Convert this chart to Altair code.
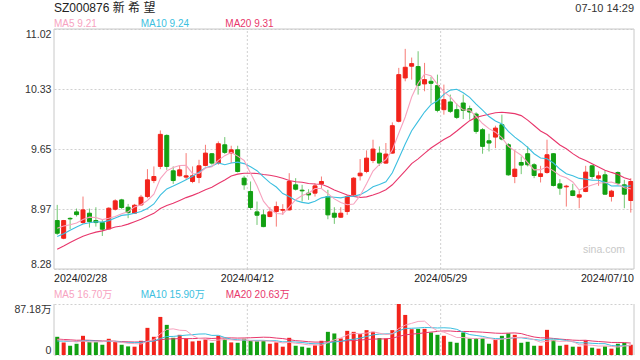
import altair as alt
import pandas as pd

# ---------------- data ----------------
tick_dates = ["2024/02/28", "2024/04/12", "2024/05/29", "2024/07/10"]
tick_pos = [0, 30, 60, 90]

open_p = [8.833, 8.631, 8.858, 8.932, 8.810, 8.917, 8.833, 8.810, 8.737, 8.962,
          9.069, 8.985, 8.917, 9.012, 9.107, 9.290, 9.451, 9.805, 9.401, 9.344,
          9.329, 9.279, 9.325, 9.462, 9.596, 9.489, 9.698, 9.603, 9.641, 9.317,
          9.165, 8.932, 8.898, 8.879, 8.936, 8.951, 8.955, 9.241, 9.180, 9.146,
          9.146, 9.252, 9.107, 8.917, 8.871, 8.936, 9.126, 9.344, 9.393, 9.519,
          9.603, 9.489, 9.603, 9.966, 10.461, 10.595, 10.591, 10.393, 10.423, 10.374,
          10.099, 10.187, 10.099, 10.175, 10.110, 10.049, 9.870, 9.744, 9.786, 9.927,
          9.699, 9.336, 9.496, 9.596, 9.470, 9.336, 9.382, 9.596, 9.252, 9.218,
          9.172, 9.100, 9.165, 9.458, 9.317, 9.355, 9.108, 9.382, 9.241, 9.062]
high_p = [9.012, 8.840, 8.871, 8.970, 9.107, 8.970, 8.985, 8.841, 8.985, 9.077,
          9.081, 9.023, 9.023, 9.126, 9.420, 9.451, 9.862, 9.817, 9.451, 9.466,
          9.603, 9.451, 9.527, 9.698, 9.603, 9.737, 9.786, 9.687, 9.687, 9.344,
          9.279, 9.050, 8.955, 8.985, 9.050, 9.020, 9.374, 9.317, 9.241, 9.191,
          9.260, 9.336, 9.184, 8.985, 8.985, 9.126, 9.329, 9.535, 9.634, 9.756,
          9.679, 9.718, 9.954, 10.576, 10.793, 10.694, 10.766, 10.633, 10.473, 10.499,
          10.385, 10.271, 10.168, 10.271, 10.145, 10.069, 9.889, 9.824, 9.916, 10.042,
          9.718, 9.641, 9.565, 9.680, 9.489, 9.458, 9.756, 9.603, 9.306, 9.241,
          9.252, 9.176, 9.458, 9.470, 9.394, 9.405, 9.184, 9.394, 9.298, 9.317]
low_p = [8.669, 8.620, 8.734, 8.879, 8.795, 8.753, 8.764, 8.657, 8.734, 8.947,
         8.962, 8.860, 8.909, 9.001, 9.088, 9.260, 9.420, 9.412, 9.252, 9.336,
         9.298, 9.260, 9.260, 9.451, 9.470, 9.470, 9.592, 9.489, 9.382, 9.184,
         8.955, 8.783, 8.757, 8.871, 8.764, 8.898, 8.947, 9.176, 9.050, 9.069,
         9.107, 9.203, 8.848, 8.795, 8.863, 8.898, 9.107, 9.290, 9.374, 9.489,
         9.458, 9.481, 9.596, 9.954, 10.423, 10.442, 10.271, 10.309, 10.168, 10.069,
         10.042, 10.061, 9.992, 9.992, 9.985, 9.824, 9.596, 9.622, 9.660, 9.748,
         9.344, 9.260, 9.363, 9.451, 9.317, 9.268, 9.367, 9.222, 9.127, 8.993,
         9.111, 8.974, 9.157, 9.306, 9.230, 9.127, 9.050, 9.241, 8.974, 8.924]
close_p = [8.688, 8.833, 8.852, 8.901, 8.955, 8.821, 8.810, 8.734, 8.974, 9.058,
           8.982, 8.924, 9.008, 9.100, 9.298, 9.336, 9.817, 9.451, 9.290, 9.412,
           9.344, 9.344, 9.458, 9.603, 9.489, 9.710, 9.611, 9.641, 9.393, 9.241,
           8.982, 8.894, 8.764, 8.932, 8.993, 8.959, 9.279, 9.191, 9.172, 9.126,
           9.229, 9.279, 8.898, 8.871, 8.917, 9.107, 9.317, 9.374, 9.546, 9.649,
           9.489, 9.592, 9.916, 10.499, 10.583, 10.625, 10.377, 10.442, 10.400, 10.091,
           10.213, 10.080, 10.011, 10.091, 10.072, 9.851, 9.680, 9.718, 9.889, 9.763,
           9.355, 9.420, 9.466, 9.470, 9.348, 9.367, 9.584, 9.233, 9.203, 9.226,
           9.119, 9.127, 9.386, 9.336, 9.344, 9.134, 9.169, 9.260, 9.134, 9.279]
volume = [31.1, 21.5, 15.8, 19.2, 32.8, 22.1, 22.1, 17.5, 27.7, 23.2,
          17.5, 14.7, 14.2, 24.3, 46.4, 31.1, 65.1, 51.5, 29.4, 34.5,
          28.3, 23.2, 24.3, 26.6, 20.9, 32.8, 27.7, 21.5, 20.9, 27.7,
          24.3, 23.8, 24.3, 19.2, 21.5, 14.2, 29.4, 15.8, 14.2, 12.5,
          16.4, 24.3, 39.6, 36.8, 28.3, 41.3, 39.6, 35.7, 42.5, 39.6,
          28.9, 28.3, 42.5, 87.18, 68.5, 44.1, 44.7, 44.7, 38.5, 34.5,
          32.8, 22.6, 20.9, 38.5, 28.3, 28.9, 28.3, 19.2, 26.0, 32.8,
          36.8, 34.5, 20.9, 22.6, 15.8, 15.8, 43.0, 26.0, 15.8, 17.5,
          14.2, 14.2, 24.9, 12.5, 10.8, 14.7, 10.8, 19.2, 20.9, 17.5]
# sessions before 2024/02/28 (not drawn, estimated from the moving-average lines' start)
prior_close = [8.10, 8.05, 8.15, 8.25, 8.30, 8.40, 8.45, 8.55, 8.60, 8.75,
               8.50, 8.45, 8.55, 8.60, 8.675, 8.70, 8.78, 8.80, 8.757]
prior_volume = [35, 28, 33, 30, 26, 34, 29, 31, 27, 33,
                22, 20, 23, 21, 22, 25, 24, 26, 23.9]

price_ticks = [8.28, 8.965, 9.65, 10.335, 11.02]
vol_ticks = [0, 87.18]

# ---------------- styling ----------------
RED = "#f2231b"
GREEN = "#12a012"
C5 = "#f7a3bf"
C10 = "#3cbfe0"
C20 = "#e8376c"
GRID = "#d0d0d0"
FRAME = "#c8c8c8"
FONT = "Liberation Sans, Arial, Noto Sans CJK SC, sans-serif"


def moving(full, n, k):
    return sum(full[k - n + 1:k + 1]) / n


n = len(close_p)
fc = prior_close + close_p
fv = prior_volume + volume
off = len(prior_close)
df = pd.DataFrame({
    "xc": [i + 0.5 for i in range(n)],
    "open": open_p, "high": high_p, "low": low_p, "close": close_p,
    "volume": volume,
    "dir": ["up" if c >= o else "down" for o, c in zip(open_p, close_p)],
    "ma5": [moving(fc, 5, i + off) for i in range(n)],
    "ma10": [moving(fc, 10, i + off) for i in range(n)],
    "ma20": [moving(fc, 20, i + off) for i in range(n)],
    "vma5": [moving(fv, 5, i + off) for i in range(n)],
    "vma10": [moving(fv, 10, i + off) for i in range(n)],
    "vma20": [moving(fv, 20, i + off) for i in range(n)],
})
vgrid = pd.DataFrame({"x": [30, 60], "lo": [8.28, 8.28], "hi": [11.02, 11.02],
                      "v0": [0, 0], "v1": [87.18, 87.18]})
edges = pd.DataFrame({"x": [0, 90], "v0": [0, 0], "v1": [87.18, 87.18]})
frame = pd.DataFrame({"x0": [0], "x1": [90], "lo": [8.28], "hi": [11.02]})
one = pd.DataFrame({"k": [0]})

xs = alt.Scale(domain=[0, 90], nice=False, zero=False, padding=0)
ps = alt.Scale(domain=[8.28, 11.02], range=[240, 0], nice=False, zero=False, padding=0)
vs = alt.Scale(domain=[0, 87.18], range=[326, 275], nice=False, zero=True, padding=0)
cs = alt.Scale(domain=["up", "down"], range=[RED, GREEN])

X = alt.X("xc:Q", scale=xs, axis=None)

price_axis = alt.Axis(
    orient="left", values=price_ticks,
    labelExpr="datum.value == 8.965 ? '8.97' : datum.value == 10.335 ? '10.33' : format(datum.value, '.2f')",
    grid=True, gridDash=[2, 2], gridColor=GRID, domain=False, ticks=False,
    labelFlush=True, labelPadding=3, labelFontSize=10.6, labelColor="#333",
    labelFont=FONT, title=None)
vol_axis = alt.Axis(
    orient="left", values=vol_ticks,
    labelExpr="datum.value == 0 ? '0' : '87.18万'",
    grid=True, gridDash=[2, 2], gridColor=GRID, domain=False, ticks=False,
    labelFlush=True, labelPadding=3, labelFontSize=10.6, labelColor="#333",
    labelFont=FONT, title=None)


def PY(field):
    return alt.Y(field, scale=ps, axis=price_axis)


def VY(field):
    return alt.Y(field, scale=vs, axis=vol_axis)


# ---------------- text ----------------
def txt(s, x, y, size, color, align="left"):
    return alt.Chart(one).mark_text(
        text=s, align=align, baseline="alphabetic", fontSize=size,
        color=color, font=FONT).encode(x=alt.value(x), y=alt.value(y))


texts = [
    txt("SZ000876 新 希 望", 0, -17.5, 12, "#222"),
    txt("07-10 14:29", 580, -17.5, 11, "#333", "right"),
    txt("MA5 9.21", 0, -1.8, 10, C5),
    txt("MA10 9.24", 86.7, -1.8, 10, C10),
    txt("MA20 9.31", 171.3, -1.8, 10, C20),
    txt("MA5 16.70万", 0, 268.7, 10, C5),
    txt("MA10 15.90万", 86.7, 268.7, 10, C10),
    txt("MA20 20.63万", 171.7, 268.7, 10, C20),
    txt("sina.com", 571, 224, 10.5, "#c8c8c8", "right"),
]
aligns = ["left", "center", "center", "right"]
date_texts = [
    alt.Chart(pd.DataFrame({"x": [p]})).mark_text(
        text=d, align=a, baseline="alphabetic", fontSize=10.6, color="#222", font=FONT
    ).encode(x=alt.X("x:Q", scale=xs, axis=None), y=alt.value(252.7))
    for d, p, a in zip(tick_dates, tick_pos, aligns)
]

# ---------------- price panel ----------------
p_grid_v = alt.Chart(vgrid).mark_rule(strokeDash=[2, 2], color=GRID).encode(
    x=alt.X("x:Q", scale=xs, axis=None), y=PY("lo:Q"), y2="hi:Q")
p_frame = alt.Chart(frame).mark_rect(fill="transparent", stroke=FRAME, strokeWidth=1).encode(
    x=alt.X("x0:Q", scale=xs, axis=None), x2="x1:Q", y=PY("lo:Q"), y2="hi:Q")
wick = alt.Chart(df).mark_rule(strokeWidth=1, opacity=0.6).encode(
    x=X, y=PY("low:Q"), y2="high:Q",
    color=alt.Color("dir:N", scale=cs, legend=None))
body = alt.Chart(df).mark_bar(size=4, strokeWidth=1).encode(
    x=X, y=PY("open:Q"), y2="close:Q",
    color=alt.Color("dir:N", scale=cs, legend=None),
    stroke=alt.Stroke("dir:N", scale=cs, legend=None))
ma_lines = [
    alt.Chart(df).mark_line(color=col, strokeWidth=1.1).encode(x=X, y=PY(f"{f}:Q"))
    for f, col in [("ma20", C20), ("ma10", C10), ("ma5", C5)]
]
price = alt.layer(p_grid_v, wick, body, *ma_lines, p_frame, *texts, *date_texts)

# ---------------- volume panel ----------------
v_grid_v = alt.Chart(vgrid).mark_rule(strokeDash=[2, 2], color=GRID).encode(
    x=alt.X("x:Q", scale=xs, axis=None), y=VY("v0:Q"), y2="v1:Q")
v_edges = alt.Chart(edges).mark_rule(color=FRAME).encode(
    x=alt.X("x:Q", scale=xs, axis=None), y=VY("v0:Q"), y2="v1:Q")
vbars = alt.Chart(df).mark_bar(size=4).encode(
    x=X, y=VY("volume:Q"),
    color=alt.Color("dir:N", scale=cs, legend=None))
vma_lines = [
    alt.Chart(df).mark_line(color=col, strokeWidth=1).encode(x=X, y=VY(f"{f}:Q"))
    for f, col in [("vma20", C20), ("vma10", C10), ("vma5", C5)]
]
vol = alt.layer(v_grid_v, vbars, *vma_lines, v_edges)

chart = alt.layer(price, vol).resolve_scale(
    y="independent"
).properties(
    width=580, height=326,
    autosize=alt.AutoSizeParams(type="none"),
    padding={"left": 54, "top": 29, "right": 6, "bottom": 5},
    background="white",
).configure_view(stroke=None)

chart.save("out.html", embed_options={"renderer": "svg", "actions": False})
